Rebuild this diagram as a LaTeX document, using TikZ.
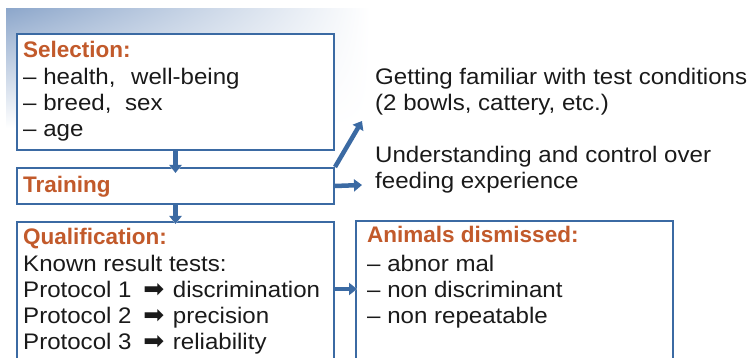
\documentclass[tikz,border=0pt]{standalone}
\usepackage{fontspec}
\setmainfont{Liberation Sans}[FakeStretch=1.07]
\newfontfamily\headfont{Liberation Sans}
\newfontfamily\symfont{DejaVu Sans}
\usetikzlibrary{arrows.meta,shadings}
\definecolor{boxblue}{HTML}{3B6AA3}
\definecolor{headorange}{HTML}{C25A2B}
\definecolor{fadeblue}{HTML}{8DA7CB}
\definecolor{ink}{HTML}{1A1A1A}
\newcommand{\parr}{\hspace{5pt}{\symfont\fontsize{25}{27}\selectfont ➡}\hspace{2pt}}
\begin{document}
\begin{tikzpicture}[x=1pt,y=-1pt,
  box/.style={draw=boxblue, line width=2pt, fill=white, anchor=north west, inner sep=0pt, minimum width=317pt},
  txt/.style={anchor=base west, inner sep=0pt, font=\fontsize{22.5}{27}\selectfont, text=ink},
  head/.style={anchor=base west, inner sep=0pt, font=\headfont\bfseries\fontsize{22.5}{27}\selectfont, text=headorange},
  conn/.style={draw=boxblue, line width=4.5pt, -{Triangle[length=8pt,width=12pt]},
    preaction={draw=white, line width=8pt, shorten <=9pt, -{Triangle[length=11pt,width=18pt]}}},
]
\useasboundingbox (0,0) rectangle (747,358);
\clip (0,0) rectangle (747,358);
\shade[upper left=fadeblue, upper right=white, lower left=white, lower right=white] (6,9) rectangle (370,128);

% boxes
\node[box, minimum height=116pt] (sel) at (16,33) {};
\node[box, minimum height=36pt] (train) at (16,167) {};
\node[box, minimum height=160pt] (qual) at (16,221) {};
\node[box, minimum height=160pt] (anim) at (355,220) {};

% selection text
\node[head] (selh) at (23,58) {Selection:};
\node[txt] (sel1) at (23,85) {– health,\hspace{9pt} well-being};
\node[txt] (sel2) at (23,111) {– breed,\hspace{7pt} sex};
\node[txt] (sel3) at (23,137) {– age};

% training
\node[head] (trainh) at (23,193) {Training};

% qualification
\node[head] (qualh) at (23,244) {Qualification:};
\node[txt] (q1) at (23,271) {Known result tests:};
\node[txt] (q2) at (23,297) {Protocol 1 \parr{} discrimination};
\node[txt] (q3) at (23,323) {Protocol 2 \parr{} precision};
\node[txt] (q4) at (23,349) {Protocol 3 \parr{} reliability};

% animals dismissed
\node[head] (animh) at (367,243) {Animals dismissed:};
\node[txt] (a1) at (367,271) {– abnor mal};
\node[txt] (a2) at (367,297) {– non discriminant};
\node[txt] (a3) at (367,323) {– non repeatable};

% right texts
\node[txt] (r1) at (375,85) {Getting familiar with test conditions};
\node[txt] (r2) at (375,111) {(2 bowls, cattery, etc.)};
\node[txt] (r3) at (375,163) {Understanding and control over};
\node[txt] (r4) at (375,189) {feeding experience};

% connectors
\coordinate (up) at (362,121);
\coordinate (rt) at (362,185);
\coordinate (lev) at (0,289);
\draw[conn] (sel.south) -- ([yshift=-6pt]train.north);
\draw[conn] (train.south) -- ([yshift=-3pt]qual.north);
\draw[conn] (train.north east) -- (up);
\draw[conn] (train.east) -- (rt);
\draw[conn] (qual.east |- lev) -- ([xshift=2pt]anim.west |- lev);
\end{tikzpicture}
\end{document}
